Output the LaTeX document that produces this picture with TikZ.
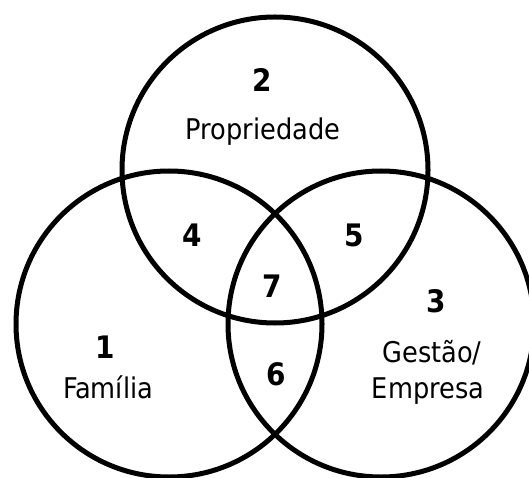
\documentclass[tikz,border=0pt]{standalone}
\usepackage{fontspec}
\setmainfont{DejaVu Sans Condensed}
\begin{document}
\begin{tikzpicture}[x=1pt,y=-1pt,
  ring/.style={draw=black,line width=5pt},
  lbl/.style={anchor=base,inner sep=0pt,font=\fontsize{28.5}{34}\selectfont},
  num/.style={anchor=base,inner sep=0pt,font=\fontsize{31}{37}\selectfont\bfseries}]
\useasboundingbox (0,0) rectangle (529,478);
\clip (0,0) rectangle (529,478);
\fill[white] (0,0) rectangle (529,478);
\coordinate (ctop) at (275,170);
\coordinate (cleft) at (169,324);
\coordinate (cright) at (381,324);
\draw[ring] (ctop) circle[radius=153pt];
\draw[ring] (cleft) circle[radius=153pt];
\draw[ring] (cright) circle[radius=153pt];
\node[num] (n2) at (262,92) {2};
\node[lbl] (t2) at (263,140) {Propriedade};
\node[num] (n4) at (192,246) {4};
\node[num] (n5) at (354,246) {5};
\node[num] (n7) at (272,297) {7};
\node[num] (n3) at (436,312) {3};
\node[lbl] (t3a) at (432,362) {Gestão/};
\node[lbl] (t3b) at (428,398) {Empresa};
\node[num] (n1) at (105,358) {1};
\node[lbl] (t1) at (108,398) {Família};
\node[num] (n6) at (276,385) {6};
\end{tikzpicture}
\end{document}
